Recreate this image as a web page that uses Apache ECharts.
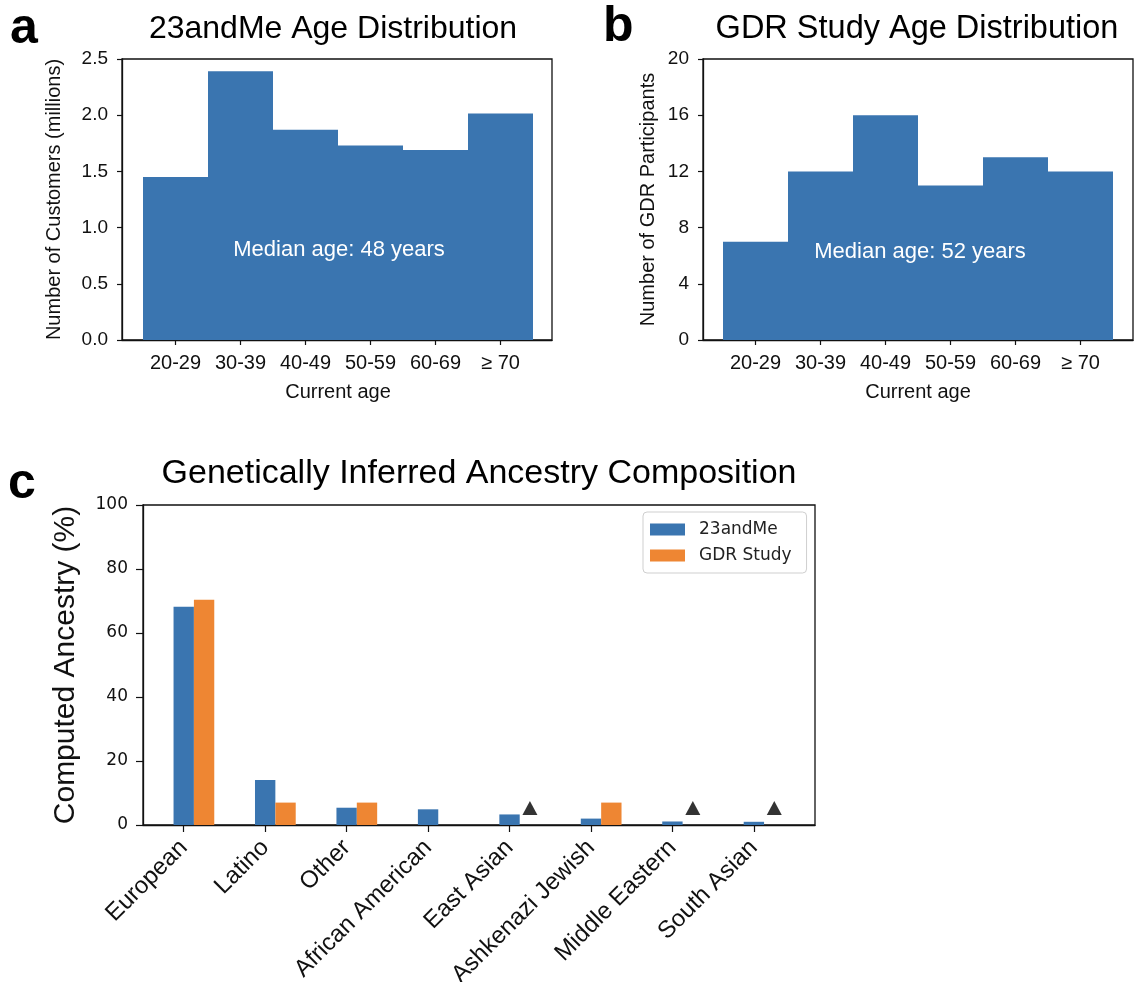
<!DOCTYPE html>
<html>
<head>
<meta charset="utf-8">
<script src="https://cdn.jsdelivr.net/npm/echarts@6/dist/echarts.min.js"></script>
<style>
html,body{margin:0;padding:0;background:#fff;}
#chart{width:1134px;height:982px;}
</style>
</head>
<body>
<div id="chart"></div>
<script>
// ---------- data ----------
const ageBins = ['20-29', '30-39', '40-49', '50-59', '60-69', '≥ 70'];
const customers23andMe = [1.45, 2.39, 1.87, 1.73, 1.69, 2.015];   // millions
const gdrParticipants = [7, 12, 16, 11, 13, 12];
const ancestryCats = ['European', 'Latino', 'Other', 'African American', 'East Asian', 'Ashkenazi Jewish', 'Middle Eastern', 'South Asian'];
const ancestry23andMe = [68.2, 14.1, 5.4, 4.9, 3.3, 2.0, 1.1, 1.0];
const ancestryGDR = [70.4, 7.0, 7.0, null, null, 7.0, null, null];
const absentMarker = [null, null, null, null, 5, null, 5, 5];
const yTicksA = { min: 0, max: 2.5, interval: 0.5 };
const yTicksB = { min: 0, max: 20, interval: 4 };
const yTicksC = { min: 0, max: 100, interval: 20 };

const BLUE = '#3a75b0';
const ORANGE = '#ee8633';
const SANS = 'Liberation Sans, Arial, sans-serif';
const DJ = 'DejaVu Sans, sans-serif';

const chart = echarts.init(document.getElementById('chart'), null, { renderer: 'canvas' });

function outerX(gi) {
  return { type: 'value', gridIndex: gi, min: 0, max: 1, show: true,
    axisLine: { show: true, lineStyle: { color: '#111', width: 1.3 } },
    axisTick: { show: false }, axisLabel: { show: false }, splitLine: { show: false } };
}
function outerY(gi, t, name, nameGap, fmt, font, fontSize, margin) {
  return { type: 'value', gridIndex: gi, min: t.min, max: t.max, interval: t.interval,
    name: name, nameLocation: 'middle', nameGap: nameGap, nameRotate: 90,
    nameTextStyle: { fontFamily: SANS, fontSize: gi === 4 ? 30 : 20, color: '#111' },
    axisLine: { show: true, lineStyle: { color: '#111', width: 1.3 } },
    axisTick: { show: true, length: gi === 4 ? 7 : 5, lineStyle: { color: '#111', width: 1.2 } },
    axisLabel: { fontFamily: font, fontSize: fontSize, color: '#111', margin: margin, formatter: fmt },
    splitLine: { show: false } };
}
function innerY(gi, t) {
  return { type: 'value', gridIndex: gi, min: t.min, max: t.max, interval: t.interval, show: false };
}
function ageX(gi) {
  return { type: 'category', gridIndex: gi, data: ageBins, boundaryGap: true,
    name: 'Current age', nameLocation: 'middle', nameGap: 42,
    nameTextStyle: { fontFamily: SANS, fontSize: 20, color: '#111' },
    axisLine: { show: false },
    axisTick: { show: true, alignWithLabel: true, length: 5, lineStyle: { color: '#111', width: 1.2 } },
    axisLabel: { fontFamily: SANS, fontSize: 20, color: '#111', margin: 13, interval: 0, hideOverlap: false },
    splitLine: { show: false } };
}

const frame = { show: true, borderColor: '#111', borderWidth: 1.3, backgroundColor: 'transparent' };
const fixed = { containLabel: false, outerBoundsMode: 'none' };

const option = {
  animation: false,
  backgroundColor: '#fff',
  grid: [
    Object.assign({ left: 122, width: 430, top: 59, height: 281 }, frame, fixed),
    Object.assign({ left: 143, width: 390, top: 59, height: 281 }, fixed),
    Object.assign({ left: 703, width: 430, top: 59, height: 281 }, frame, fixed),
    Object.assign({ left: 723, width: 390, top: 59, height: 281 }, fixed),
    Object.assign({ left: 143, width: 672, top: 505, height: 320 }, frame, fixed),
    Object.assign({ left: 143, width: 651.6, top: 505, height: 320 }, fixed)
  ],
  xAxis: [
    outerX(0), ageX(1), outerX(2), ageX(3), outerX(4),
    { type: 'category', gridIndex: 5, data: ancestryCats, boundaryGap: true,
      axisLine: { show: false },
      axisTick: { show: true, alignWithLabel: true, length: 7, lineStyle: { color: '#111', width: 1.2 } },
      axisLabel: { fontFamily: SANS, fontSize: 24, color: '#111', rotate: 45, margin: 19, interval: 0 },
      splitLine: { show: false } }
  ],
  yAxis: [
    outerY(0, yTicksA, 'Number of Customers (millions)', 58, v => v.toFixed(1), SANS, 19, 14),
    innerY(1, yTicksA),
    outerY(2, yTicksB, 'Number of GDR Participants', 45, v => String(v), SANS, 19, 14),
    innerY(3, yTicksB),
    outerY(4, yTicksC, 'Computed Ancestry (%)', 62, v => String(v), DJ, 17, 15),
    innerY(5, yTicksC)
  ],
  legend: {
    data: ['23andMe', 'GDR Study'],
    orient: 'vertical', left: 643, top: 512,
    itemWidth: 35, itemHeight: 12, itemGap: 9,
    padding: [9, 15, 9, 7],
    borderColor: '#cfcfcf', borderWidth: 1, borderRadius: 4, backgroundColor: '#fff',
    textStyle: { fontFamily: DJ, fontSize: 17, color: '#222', padding: [0, 0, 0, 9] },
    icon: 'rect'
  },
  series: [
    { type: 'bar', xAxisIndex: 1, yAxisIndex: 1, data: customers23andMe, barWidth: '100%', barCategoryGap: '0%',
      itemStyle: { color: BLUE }, silent: true },
    { type: 'bar', xAxisIndex: 3, yAxisIndex: 3, data: gdrParticipants, barWidth: '100%', barCategoryGap: '0%',
      itemStyle: { color: BLUE }, silent: true },
    { type: 'bar', name: '_spacer', xAxisIndex: 5, yAxisIndex: 5, data: ancestryCats.map(() => null),
      barWidth: '25%', barGap: '0%', itemStyle: { color: 'transparent' }, silent: true },
    { type: 'bar', name: '23andMe', xAxisIndex: 5, yAxisIndex: 5, data: ancestry23andMe,
      barWidth: '25%', barGap: '0%', itemStyle: { color: BLUE }, silent: true },
    { type: 'bar', name: 'GDR Study', xAxisIndex: 5, yAxisIndex: 5, data: ancestryGDR,
      barWidth: '25%', barGap: '0%', itemStyle: { color: ORANGE }, silent: true },
    { type: 'scatter', name: 'absent', xAxisIndex: 5, yAxisIndex: 5, data: absentMarker,
      symbol: 'triangle', symbolSize: [15, 14], symbolOffset: [20.4, -1],
      itemStyle: { color: '#000' }, silent: true, z: 5 }
  ],
  graphic: [
    { type: 'text', left: 10, top: 4, style: { text: 'a', font: 'bold 50px Liberation Sans, Arial', fill: '#000' } },
    { type: 'text', left: 603, top: 2, style: { text: 'b', font: 'bold 50px Liberation Sans, Arial', fill: '#000' } },
    { type: 'text', left: 8, top: 459, style: { text: 'c', font: 'bold 50px Liberation Sans, Arial', fill: '#000' } },
    { type: 'text', x: 333, y: 29, style: { text: '23andMe Age Distribution', font: '32px Liberation Sans, Arial', fill: '#000', align: 'center', verticalAlign: 'middle' } },
    { type: 'text', x: 917, y: 29, style: { text: 'GDR Study Age Distribution', font: '32.5px Liberation Sans, Arial', fill: '#000', align: 'center', verticalAlign: 'middle' } },
    { type: 'text', x: 479, y: 474, style: { text: 'Genetically Inferred Ancestry Composition', font: '34px Liberation Sans, Arial', fill: '#000', align: 'center', verticalAlign: 'middle' } },
    { type: 'text', x: 339, y: 250, z: 10, style: { text: 'Median age: 48 years', font: '22px Liberation Sans, Arial', fill: '#fff', align: 'center', verticalAlign: 'middle' } },
    { type: 'text', x: 920, y: 252, z: 10, style: { text: 'Median age: 52 years', font: '22px Liberation Sans, Arial', fill: '#fff', align: 'center', verticalAlign: 'middle' } }
  ]
};
chart.setOption(option);
</script>
</body>
</html>
